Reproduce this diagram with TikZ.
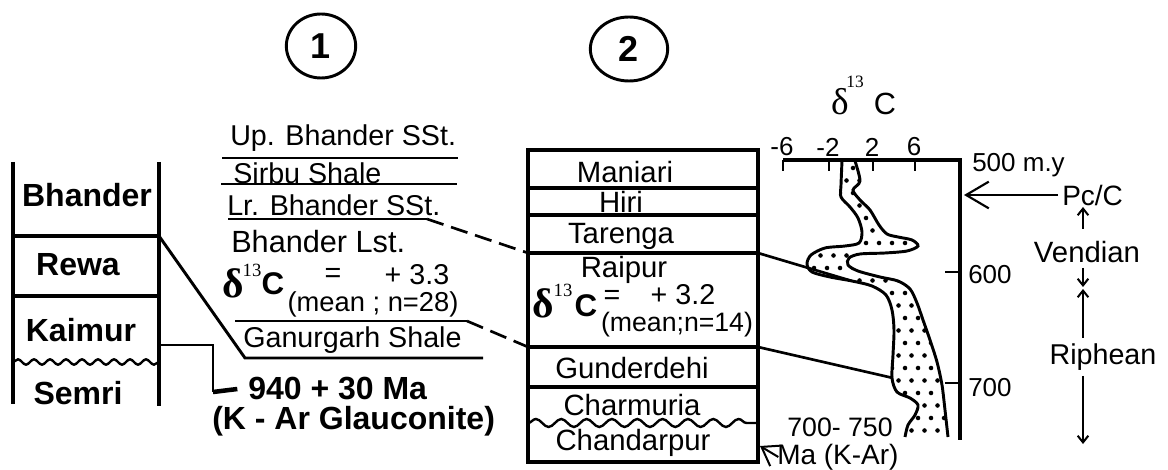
\documentclass[tikz,border=0pt]{standalone}
\usepackage{fontspec}
\setmainfont{Liberation Sans}
\newfontfamily\grkfont{Liberation Serif}
\usetikzlibrary{arrows.meta,decorations.pathmorphing,positioning,shapes.geometric}

\newcommand\fsz[1]{\fontsize{#1}{#1}\selectfont}

\tikzset{
  txt/.style={inner sep=0pt, font=\fsz{21.5pt}},
  boxtxt/.style={inner sep=0pt, font=\fsz{22pt}},
  btxt/.style={inner sep=0pt, font=\bfseries\fsz{24pt}},
  axtxt/.style={inner sep=0pt, font=\fsz{19.5pt}},
  strat/.style={line width=2.6pt},
  bed/.style={line width=2.2pt},
  corr/.style={line width=2pt},
  wavy/.style={line width=1.8pt, decorate, decoration={snake, amplitude=#1, segment length=12pt}},
  barb/.style={-{Straight Barb[length=5pt,width=8pt]}, line width=1.5pt},
  bigbarb/.style={-{Straight Barb[length=17pt,width=20pt]}, line width=1.6pt},
  numcirc/.style={ellipse, draw, line width=2.2pt, minimum height=48pt, inner sep=0pt, font=\bfseries\fsz{27pt}},
}

\begin{document}
\begin{tikzpicture}[x=0.75pt,y=-0.75pt]
\useasboundingbox (0,0) rectangle (1168,470);

% section numbers
\node[numcirc, minimum width=52pt] (n1) at (321,46) {1};
\node[numcirc, minimum width=58pt] (n2) at (629,49) {2};

% column 1: Vindhyan
\draw[strat] (13,162) -- (13,404);
\draw[strat] (159,162) -- (159,406);
\draw[strat] (13,236) -- (159,236);
\draw[strat] (13,296) -- (159,296);
\draw[wavy=2pt] (13,362) -- (159,362);
\node[btxt] (bhander) at (87,195) {Bhander};
\node[btxt] (rewa) at (78,265) {Rewa};
\node[btxt] (kaimur) at (81,330) {Kaimur};
\node[btxt] (semri) at (78,393) {Semri};

% Bhander group units
\node[txt, anchor=west] (upb) at (230,138) {Up. Bhander SSt.};
\node[txt, anchor=west] (sirbu) at (233,173) {Sirbu Shale};
\node[txt, anchor=west] (lrb) at (227,205) {Lr. Bhander SSt.};
\node[txt, anchor=west, font=\fsz{23pt}] (blst) at (231,242) {Bhander Lst.};
\node[txt, anchor=west] (ganur) at (243,340) {Ganurgarh Shale};
\coordinate (upL) at (222,158);  \coordinate (upR) at (458,158);
\coordinate (sirL) at (221,184); \coordinate (sirR) at (457,184);
\coordinate (lrL) at (228,219);  \coordinate (lrR) at (427,219);
\coordinate (ganTL) at (235,321); \coordinate (ganTR) at (467,321);
\coordinate (rewaTop) at (159,236);
\coordinate (ganBL) at (245,358); \coordinate (ganBR) at (483,358);
\draw[bed] (upL) -- (upR);
\draw[bed] (sirL) -- (sirR);
\draw[bed] (lrL) -- (lrR);
\draw[bed] (ganTL) -- (ganTR);
\draw[bed] (rewaTop) -- (ganBL) -- (ganBR);

% d13C of Bhander Lst.
\node[inner sep=0pt, font=\grkfont\bfseries\fsz{31pt}] (d1) at (233,283) {δ};
\node[inner sep=0pt, font=\grkfont\fsz{14pt}] (d1sup) at (252,270) {13};
\node[inner sep=0pt, font=\bfseries\fsz{23.5pt}] (d1c) at (273,284) {C};
\node[txt] (d1eq) at (333,275) {=};
\node[txt] (d1val) at (417,275) {+ 3.3};
\node[inner sep=0pt, font=\fsz{20.5pt}] (d1sub) at (373,304) {(mean ; n=28)};

% glauconite age
\node[btxt, anchor=west] (age) at (248,389) {940 + 30 Ma};
\node[btxt, anchor=west] (agemeth) at (212,421) {(K - Ar Glauconite)};
\coordinate (kaimurR) at (159,345);
\coordinate (brk) at (213,392);
\draw[bed] (kaimurR) -| (brk);
\draw[line width=3.4pt] (brk) -- ([xshift=-8pt]age.west);

% column 2: Chhattisgarh
\draw[strat] (528,150) rectangle (758,462);
\foreach \yy in {188,215,253,347,387}
  \draw[strat] (528,\yy) -- (758,\yy);
\draw[wavy=3pt, decoration={segment length=19pt}] (528,423) -- (758,423);
\node[boxtxt] (maniari) at (625,172) {Maniari};
\node[boxtxt] (hiri) at (621,202) {Hiri};
\node[boxtxt] (tarenga) at (621,236) {Tarenga};
\node[boxtxt] (raipur) at (624,270) {Raipur};
\node[boxtxt] (gunder) at (632,368) {Gunderdehi};
\node[boxtxt] (charm) at (632,405) {Charmuria};
\node[boxtxt] (chand) at (633,443) {Chandarpur};

% d13C of Raipur
\node[inner sep=0pt, font=\grkfont\bfseries\fsz{31pt}] (d2) at (543,303) {δ};
\node[inner sep=0pt, font=\grkfont\fsz{14pt}] (d2sup) at (563,290) {13};
\node[inner sep=0pt, font=\bfseries\fsz{23.5pt}] (d2c) at (586,306) {C};
\node[txt] (d2eq) at (612,297) {=};
\node[txt] (d2val) at (683,295) {+ 3.2};
\node[inner sep=0pt, font=\fsz{20pt}] (d2sub) at (677,325) {(mean;n=14)};

% correlation lines
\coordinate (b2raiTop) at (528,253);
\coordinate (b2raiBot) at (528,347);
\coordinate (b2raiTopR) at (758,253);
\coordinate (b2raiBotR) at (758,347);
\draw[corr, dash pattern=on 13pt off 6pt] (lrR) -- (b2raiTop);
\draw[corr, dash pattern=on 13pt off 6pt] (ganTR) -- (b2raiBot);

% d13C curve
\node[inner sep=0pt, font=\grkfont\fsz{28pt}] (dt) at (840,102) {δ};
\node[inner sep=0pt, font=\grkfont\fsz{13pt}] (dtsup) at (855,82) {13};
\node[inner sep=0pt, font=\fsz{23pt}] (dtc) at (885,104) {C};
\coordinate (axL) at (783,160);
\coordinate (axR) at (960,160);
\coordinate (axB) at (960,440);
\draw[strat] (axL) -- (axR) -- (axB);
\foreach \xx/\lab in {783/-6,829/-2,873/2,915/6} {
  \draw[bed] (\xx,160) -- (\xx,171);
  \node[inner sep=0pt, font=\fsz{19.5pt}] at (\xx-1,147) {\lab};
}
\draw[bed] (945,272) -- (960,272);
\draw[bed] (945,383) -- (960,383);
\node[axtxt, anchor=west] (my500) at (972,165) {500 m.y};
\node[axtxt, anchor=west] (my600) at (968,275) {600};
\node[axtxt, anchor=west] (my700) at (968,388) {700};

\begin{scope}
\clip plot[smooth, tension=0.5] coordinates {(842,161) (841,185) (841,197) (850,207) (858,218) (862,232) (859,243) (845,246) (825,248) (811,255) (807,264) (812,272) (830,277) (852,281) (872,286) (886,295) (892,310) (894,330) (893,355) (892,378) (897,392) (910,398) (918,405) (915,415) (908,425) (905,437)}
  -- plot[smooth, tension=0.5] coordinates {(948,437) (945,410) (942,385) (937,362) (930,340) (923,320) (917,303) (910,289) (898,281) (880,277) (858,271) (848,265) (849,258) (860,254) (885,253) (907,251) (918,246) (912,240) (898,237) (887,234) (879,225) (870,210) (860,200) (853,190) (860,181) (855,161)} -- cycle;
\foreach \r in {0,...,22}
  \foreach \c in {0,...,12}
    \fill ({801+\c*13+mod(\r,2)*6.5},{168+\r*12.5}) circle (1.7pt);
\end{scope}
\draw[bed] plot[smooth, tension=0.5] coordinates {(842,161) (841,185) (841,197) (850,207) (858,218) (862,232) (859,243) (845,246) (825,248) (811,255) (807,264) (812,272) (830,277) (852,281) (872,286) (886,295) (892,310) (894,330) (893,355) (892,378) (897,392) (910,398) (918,405) (915,415) (908,425) (905,437)};
\draw[bed] plot[smooth, tension=0.5] coordinates {(948,437) (945,410) (942,385) (937,362) (930,340) (923,320) (917,303) (910,289) (898,281) (880,277) (858,271) (848,265) (849,258) (860,254) (885,253) (907,251) (918,246) (912,240) (898,237) (887,234) (879,225) (870,210) (860,200) (853,190) (860,181) (855,161)};

\coordinate (crvA) at (852,281);
\coordinate (crvB) at (893,378);
\draw[corr] (b2raiTopR) -- (crvA);
\draw[corr] (b2raiBotR) -- (crvB);

% K-Ar age of Chandarpur
\node[inner sep=0pt, font=\fsz{20pt}] (kar1) at (840,427) {700- 750};
\node[inner sep=0pt, font=\fsz{21pt}, anchor=west] (kar2) at (777,457) {Ma (K-Ar)};
\coordinate (chandR) at (760,446);
\draw[barb, -{Straight Barb[length=13pt,width=18pt]}] ([xshift=1pt]kar2.west) -- (chandR);

% periods
\node[inner sep=0pt, font=\fsz{21pt}, anchor=west] (pcc) at (1062,195) {Pc/C};
\node[inner sep=0pt, font=\fsz{22pt}] (vend) at (1087,252) {Vendian};
\node[inner sep=0pt, font=\fsz{21.5pt}] (riph) at (1103,357) {Riphean};
\coordinate (pcTip) at (964,195);
\draw[bigbarb] ([xshift=-3pt]pcc.west) -- (pcTip);
\coordinate (vA) at (1083,229); \coordinate (vB) at (1083,207);
\coordinate (vC) at (1083,268); \coordinate (vD) at (1083,287);
\coordinate (rA) at (1083,338); \coordinate (rB) at (1083,289);
\coordinate (rC) at (1083,376); \coordinate (rD) at (1083,444);
\draw[barb] (vA) -- (vB);
\draw[barb] (vC) -- (vD);
\draw[barb] (rA) -- (rB);
\draw[barb] (rC) -- (rD);
\end{tikzpicture}
\end{document}
